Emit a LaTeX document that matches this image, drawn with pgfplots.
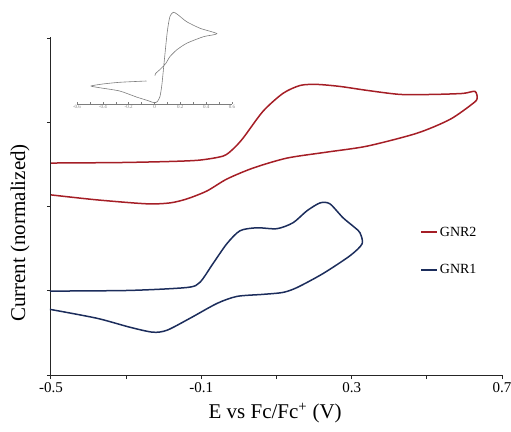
\documentclass[border=0pt]{standalone}
\usepackage{fontspec}
\setmainfont{Liberation Serif}
\usepackage{pgfplots}
\pgfplotsset{compat=1.18}
\definecolor{gnrred}{RGB}{165,30,38}
\definecolor{gnrblue}{RGB}{28,45,92}
\definecolor{insetgray}{RGB}{125,125,125}
\begin{document}
\begin{tikzpicture}
\begin{axis}[
  scale only axis, width=451pt, height=338pt,
  at={(0pt,0pt)}, anchor=south west,
  xmin=-0.5, xmax=0.7, ymin=0, ymax=4.02,
  axis x line=bottom, axis y line=left,
  axis line style={-, line width=1pt, draw=black!85},
  xtick={-0.5,-0.1,0.3,0.7}, minor xtick={-0.3,0.1,0.5},
  xticklabels={-0.5,-0.1,0.3,0.7},
  ytick={0,1,2,3,4}, yticklabels={},
  tick align=outside, major tick length=4pt, minor tick length=4pt,
  tick style={line width=1pt, black!85},
  xticklabel style={font=\fontsize{15}{18}\selectfont},
  xlabel={E vs Fc/Fc\textsuperscript{+} (V)},
  ylabel={Current (normalized)},
  label style={font=\fontsize{21}{25}\selectfont},
  xlabel style={at={(axis description cs:0.497,-0.1124)}, anchor=center},
  ylabel style={at={(axis description cs:-0.0687,0.42)}, anchor=center},
  legend style={draw=none, fill=none, at={(axis description cs:0.812,0.451)}, anchor=north west,
    font=\fontsize{14}{16}\selectfont, row sep=23pt},
  legend cell align=left,
  legend image code/.code={\draw[#1] (0pt,0pt) -- (16pt,0pt);},
  clip=false,
]
\addplot[gnrred, line width=1.5pt, smooth, tension=0.45] coordinates {
(-0.500,2.521) (-0.316,2.527) (-0.180,2.540) (-0.104,2.556) (-0.042,2.604)
(-0.016,2.686) (0.011,2.817) (0.064,3.136) (0.117,3.349) (0.163,3.444)
(0.208,3.456) (0.269,3.432) (0.341,3.385) (0.429,3.337) (0.517,3.337)
(0.596,3.349) (0.628,3.373) (0.634,3.290) (0.623,3.231) (0.562,3.041)
(0.474,2.876) (0.341,2.722) (0.234,2.651) (0.128,2.580) (0.038,2.462)
(-0.032,2.331) (-0.085,2.189) (-0.138,2.095) (-0.183,2.047) (-0.245,2.036)
(-0.378,2.083) (-0.500,2.142)
};
\addlegendentry{GNR2}
\addplot[gnrblue, line width=1.5pt, smooth, tension=0.45] coordinates {
(-0.503,0.998) (-0.290,1.006) (-0.138,1.041) (-0.104,1.101) (-0.069,1.325)
(-0.032,1.562) (0.003,1.716) (0.048,1.751) (0.101,1.740) (0.144,1.811)
(0.181,1.953) (0.216,2.047) (0.242,2.036) (0.277,1.870) (0.309,1.751)
(0.322,1.692) (0.328,1.562) (0.296,1.420) (0.224,1.207) (0.155,1.041)
(0.117,0.982) (0.064,0.959) (-0.005,0.935) (-0.058,0.852) (-0.130,0.675)
(-0.191,0.533) (-0.229,0.509) (-0.290,0.568) (-0.378,0.675) (-0.503,0.781)
};
\addlegendentry{GNR1}
\end{axis}
\begin{axis}[
  scale only axis, width=155pt, height=100pt,
  at={(26pt,271pt)}, anchor=south west,
  xmin=-0.6, xmax=0.6, ymin=0, ymax=100,
  axis x line=bottom, axis y line=none,
  axis line style={-, insetgray, line width=0.5pt},
  xtick={-0.6,-0.4,-0.2,0,0.2,0.4,0.6}, minor x tick num=1,
  xticklabels={-0.6,-0.4,-0.2,0,0.2,0.4,0.6},
  tick align=inside, major tick length=2pt, minor tick length=1.5pt,
  tick style={insetgray, line width=0.4pt},
  xticklabel style={font=\fontsize{5}{6}\selectfont, text=insetgray, inner sep=1pt},
  clip=false,
]
\addplot[insetgray, line width=0.6pt, smooth, tension=0.4] coordinates {
(-0.062,23) (-0.270,21.7) (-0.400,20) (-0.491,18) (-0.426,16.3)
(-0.270,13) (-0.140,7) (-0.049,3.3) (-0.005,1.3) (0.021,2.3)
(0.042,7.3) (0.057,19) (0.075,42.3) (0.099,72.3) (0.119,87.3)
(0.145,91.7) (0.177,89.7) (0.249,82.3) (0.353,75.7) (0.483,70.3)
(0.379,67.3) (0.249,60.7) (0.171,54) (0.119,47.3) (0.088,40.7)
(0.047,35) (0.010,30.7) (0.003,28.3)
};
\end{axis}
\pgfresetboundingbox
\path (-51pt,-56pt) rectangle (460pt,375pt);
\end{tikzpicture}
\end{document}
